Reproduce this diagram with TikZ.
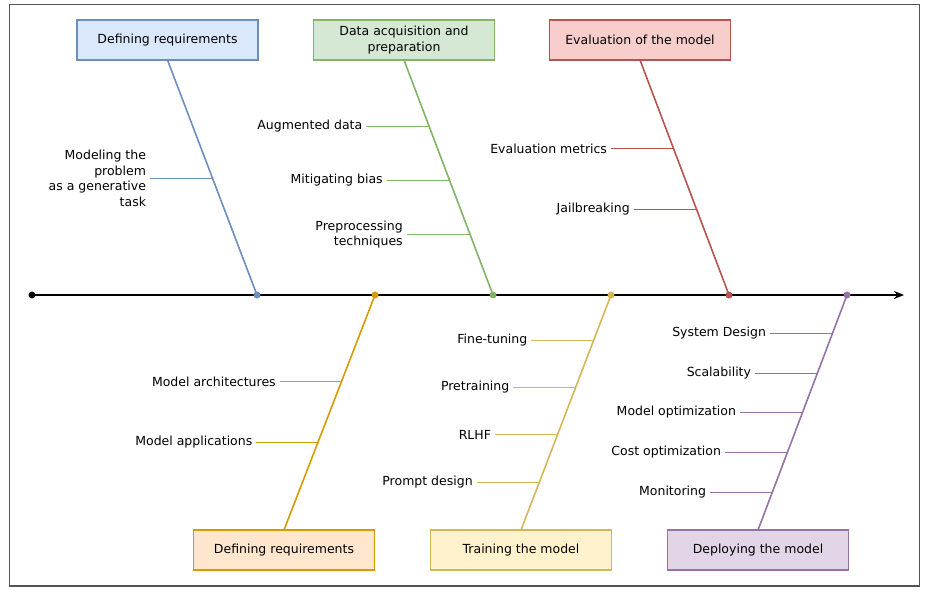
\documentclass[tikz,border=0pt]{standalone}
\usepackage{fontspec}
\setmainfont{DejaVu Sans}
\usetikzlibrary{calc,arrows.meta}
\definecolor{bluef}{HTML}{DAE8FC}\definecolor{bluel}{HTML}{6C8EBF}
\definecolor{greenf}{HTML}{D5E8D4}\definecolor{greenl}{HTML}{82B366}
\definecolor{redf}{HTML}{F8CECC}\definecolor{redl}{HTML}{B85450}
\definecolor{orangef}{HTML}{FFE6CC}\definecolor{orangel}{HTML}{D79B00}
\definecolor{yellowf}{HTML}{FFF2CC}\definecolor{yellowl}{HTML}{D6B656}
\definecolor{purplef}{HTML}{E1D5E7}\definecolor{purplel}{HTML}{9673A6}
\definecolor{framec}{HTML}{555555}
\tikzset{
  catbox/.style={draw, line width=1.7pt, minimum width=181pt, minimum height=40pt, inner sep=0pt, outer sep=0pt, align=center, font=\fontsize{12.5}{16}\selectfont},
  lbl/.style={anchor=east, inner sep=0pt, outer xsep=4pt, outer ysep=0pt, align=right, font=\fontsize{12.5}{15.5}\selectfont},
  bone/.style={line width=1.6pt},
  rib/.style={line width=1.4pt},
  spdot/.style={circle, inner sep=0pt, minimum size=7pt, draw=none}
}
\begin{document}
\begin{tikzpicture}[x=1pt,y=-1pt]
\useasboundingbox (0,0) rectangle (930,590);
\draw[framec, line width=1.2pt] (9.5,4.5) rectangle (919.5,586);
% spine
\node[spdot, fill=black] (s0) at (32,295) {};
\coordinate (s1) at (904,295);
\draw[line width=2pt, -{Stealth[length=10pt,width=8pt]}] (s0.center) -- (s1);
\node[spdot, fill=bluel] (d1) at (257,295) {};
\node[spdot, fill=orangel] (d2) at (375,295) {};
\node[spdot, fill=greenl] (d3) at (493,295) {};
\node[spdot, fill=yellowl] (d4) at (611,295) {};
\node[spdot, fill=redl] (d5) at (729,295) {};
\node[spdot, fill=purplel] (d6) at (847,295) {};
% boxes
\node[catbox, fill=bluef, draw=bluel] (B1) at (167.5,40) {Defining requirements};
\node[catbox, fill=greenf, draw=greenl] (B3) at (404,40) {Data acquisition and\\preparation};
\node[catbox, fill=redf, draw=redl] (B5) at (640,40) {Evaluation of the model};
\node[catbox, fill=orangef, draw=orangel] (B2) at (284,550) {Defining requirements};
\node[catbox, fill=yellowf, draw=yellowl] (B4) at (521,550) {Training the model};
\node[catbox, fill=purplef, draw=purplel] (B6) at (758,550) {Deploying the model};
% bones
\draw[bone, bluel] (B1.south) -- (d1.center);
\draw[bone, greenl] (B3.south) -- (d3.center);
\draw[bone, redl] (B5.south) -- (d5.center);
\draw[bone, orangel] (B2.north) -- (d2.center);
\draw[bone, yellowl] (B4.north) -- (d4.center);
\draw[bone, purplel] (B6.north) -- (d6.center);
% bone points
\coordinate (p11) at ($(B1.south)!0.502!(d1.center)$);
\coordinate (p31) at ($(B3.south)!0.281!(d3.center)$);
\coordinate (p32) at ($(B3.south)!0.515!(d3.center)$);
\coordinate (p33) at ($(B3.south)!0.745!(d3.center)$);
\coordinate (p51) at ($(B5.south)!0.374!(d5.center)$);
\coordinate (p52) at ($(B5.south)!0.634!(d5.center)$);
\coordinate (p21) at ($(B2.north)!0.634!(d2.center)$);
\coordinate (p22) at ($(B2.north)!0.371!(d2.center)$);
\coordinate (p41) at ($(B4.north)!0.807!(d4.center)$);
\coordinate (p42) at ($(B4.north)!0.606!(d4.center)$);
\coordinate (p43) at ($(B4.north)!0.406!(d4.center)$);
\coordinate (p44) at ($(B4.north)!0.204!(d4.center)$);
\coordinate (p61) at ($(B6.north)!0.835!(d6.center)$);
\coordinate (p62) at ($(B6.north)!0.668!(d6.center)$);
\coordinate (p63) at ($(B6.north)!0.501!(d6.center)$);
\coordinate (p64) at ($(B6.north)!0.332!(d6.center)$);
\coordinate (p65) at ($(B6.north)!0.162!(d6.center)$);
% labels
\node[lbl] (l11) at (150,178.5) {Modeling the\\problem\\as a generative\\task};
\node[lbl] (l31) at (366.3,126.5) {Augmented data};
\node[lbl] (l32) at (386.7,180.5) {Mitigating bias};
\node[lbl] (l33) at (406.7,234.5) {Preprocessing\\techniques};
\node[lbl] (l51) at (611,148.5) {Evaluation metrics};
\node[lbl] (l52) at (633.7,209.5) {Jailbreaking};
\node[lbl] (l21) at (279.7,381.5) {Model architectures};
\node[lbl] (l22) at (256.3,442.5) {Model applications};
\node[lbl] (l41) at (531.3,340.5) {Fine-tuning};
\node[lbl] (l42) at (513.3,387.5) {Pretraining};
\node[lbl] (l43) at (495,434.5) {RLHF};
\node[lbl] (l44) at (476.7,482.5) {Prompt design};
\node[lbl] (l61) at (770,333.5) {System Design};
\node[lbl] (l62) at (755,373.5) {Scalability};
\node[lbl] (l63) at (740,412.5) {Model optimization};
\node[lbl] (l64) at (725,452.5) {Cost optimization};
\node[lbl] (l65) at (710,492.5) {Monitoring};
% ribs
\draw[rib, bluel] (l11.east) -- (l11.east -| p11);
\draw[rib, greenl] (l31.east) -- (l31.east -| p31);
\draw[rib, greenl] (l32.east) -- (l32.east -| p32);
\draw[rib, greenl] (l33.east) -- (l33.east -| p33);
\draw[rib, redl] (l51.east) -- (l51.east -| p51);
\draw[rib, redl] (l52.east) -- (l52.east -| p52);
\draw[rib, orangel] (l21.east) -- (l21.east -| p21);
\draw[rib, orangel] (l22.east) -- (l22.east -| p22);
\draw[rib, yellowl] (l41.east) -- (l41.east -| p41);
\draw[rib, yellowl] (l42.east) -- (l42.east -| p42);
\draw[rib, yellowl] (l43.east) -- (l43.east -| p43);
\draw[rib, yellowl] (l44.east) -- (l44.east -| p44);
\draw[rib, purplel] (l61.east) -- (l61.east -| p61);
\draw[rib, purplel] (l62.east) -- (l62.east -| p62);
\draw[rib, purplel] (l63.east) -- (l63.east -| p63);
\draw[rib, purplel] (l64.east) -- (l64.east -| p64);
\draw[rib, purplel] (l65.east) -- (l65.east -| p65);
\end{tikzpicture}
\end{document}
